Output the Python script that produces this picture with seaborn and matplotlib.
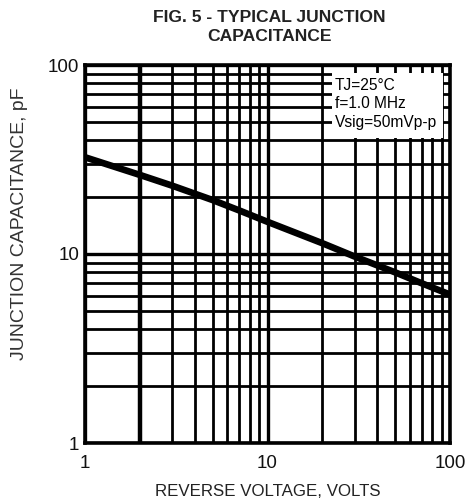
import matplotlib
matplotlib.use("Agg")
import matplotlib.pyplot as plt
import seaborn as sns
import pandas as pd
from matplotlib.ticker import LogLocator, NullFormatter, FixedLocator, FixedFormatter
from matplotlib.patches import Rectangle

# data
voltage = [1, 2, 3, 5, 7, 10, 20, 30, 50, 70, 100]
capacitance = [32.5, 26.2, 23.0, 19.3, 17.0, 14.8, 11.4, 9.7, 8.0, 7.0, 6.1]
tick_values = [1, 10, 100]
tick_labels = ["1", "10", "100"]
title_text = "FIG. 5 - TYPICAL JUNCTION\nCAPACITANCE"
xlabel_text = "REVERSE VOLTAGE, VOLTS"
ylabel_text = "JUNCTION CAPACITANCE, pF"
box_lines = ["TJ=25°C", "f=1.0 MHz", "Vsig=50mVp-p"]

sns.set_style("white")
plt.rcParams["font.family"] = ["Liberation Sans", "DejaVu Sans"]

W, H = 469, 503
fig = plt.figure(figsize=(W / 100, H / 100), dpi=100)
L, R, T, B = 85, 450, 65, 443
ax = fig.add_axes([L / W, 1 - B / H, (R - L) / W, (B - T) / H])

df = pd.DataFrame({"V": voltage, "C": capacitance})
sns.lineplot(data=df, x="V", y="C", ax=ax, color="black", linewidth=4.8, zorder=5)

ax.set_xscale("log")
ax.set_yscale("log")
ax.set_xlim(1, 100)
ax.set_ylim(1, 100)

for axis in (ax.xaxis, ax.yaxis):
    axis.set_major_locator(FixedLocator(tick_values))
    axis.set_major_formatter(FixedFormatter(tick_labels))
    axis.set_minor_locator(LogLocator(base=10, subs=range(2, 10)))
    axis.set_minor_formatter(NullFormatter())

ax.grid(which="minor", color="black", linewidth=2.0)
ax.grid(which="major", color="black", linewidth=2.4)
ax.set_axisbelow(True)
# thicker line at 2 V, as in the reference
ax.axvline(2, color="black", linewidth=3.2, zorder=1)

ax.tick_params(which="both", length=0)
ax.tick_params(axis="x", labelsize=13.5, pad=9, labelcolor="#111111")
ax.tick_params(axis="y", labelsize=13.5, pad=4, labelcolor="#111111")
for s in ax.spines.values():
    s.set_color("black")
    s.set_linewidth(2.6)

ax.set_xlabel("")
ax.set_ylabel("")

# white box for the test conditions
bx0, bx1, by0, by1 = 332, 443, 138, 73
ax.add_patch(Rectangle(((bx0 - L) / (R - L), (B - by0) / (B - T)),
                       (bx1 - bx0) / (R - L), (by0 - by1) / (B - T),
                       transform=ax.transAxes, facecolor="white",
                       edgecolor="none", zorder=3))
for i, line in enumerate(box_lines):
    yc = 85 + i * 18.8
    ax.text((335 - L) / (R - L), (B - yc) / (B - T), line,
            transform=ax.transAxes, fontsize=11.2, ha="left", va="center",
            color="black", zorder=6)

fig.text(269 / W, 1 - 27 / H, title_text, ha="center", va="center",
         fontsize=12.6, fontweight="bold", linespacing=1.3, color="#222222")
fig.text(268 / W, 1 - 492 / H, xlabel_text, ha="center", va="center",
         fontsize=12.2, color="#222222")
fig.text(20 / W, 1 - 224 / H, ylabel_text, ha="center", va="center",
         rotation=90, fontsize=14, color="#333333")

fig.savefig("out.png", dpi=100, facecolor="white")
